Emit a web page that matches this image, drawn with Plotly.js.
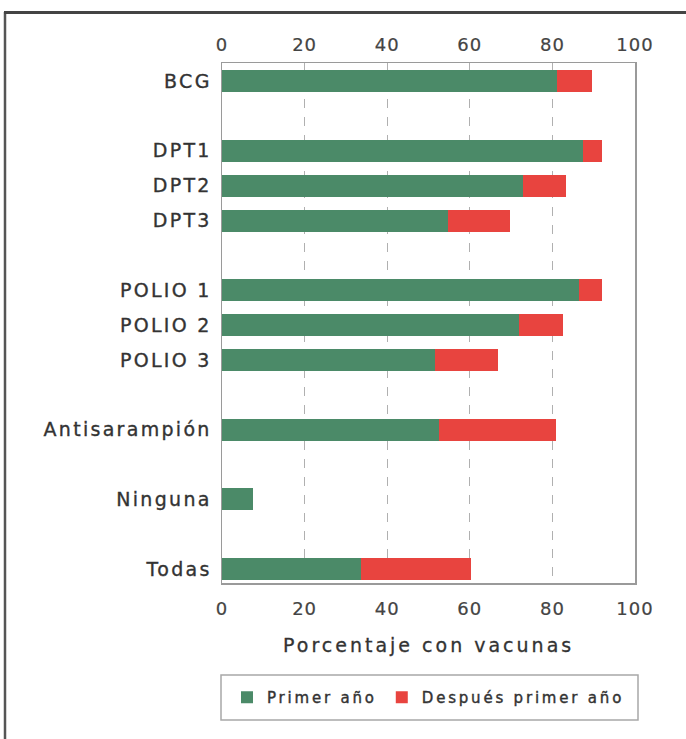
<!DOCTYPE html>
<html>
<head>
<meta charset="utf-8">
<script src="https://cdn.plot.ly/plotly-3.0.1.min.js"></script>
<style>
html,body{margin:0;padding:0;background:#fff;}
#chart{width:686px;height:739px;}
.ytick text{letter-spacing:2.3px;stroke:#333;stroke-width:0.35px;}
.xtick text, .x2tick text{letter-spacing:1px;stroke:#444;stroke-width:0.2px;}
.annotation-text{letter-spacing:3px;stroke:#333;stroke-width:0.3px;}
.legendtext{letter-spacing:2.8px;stroke:#333;stroke-width:0.4px;}
</style>
</head>
<body>
<div id="chart"></div>
<script>
// Data
var categories = ["BCG", "DPT1", "DPT2", "DPT3", "POLIO 1", "POLIO 2", "POLIO 3", "Antisarampión", "Ninguna", "Todas"];
var groupOf    = [0, 1, 1, 1, 2, 2, 2, 3, 4, 5];
var primerAno  = [81.0, 87.3, 73.0, 54.6, 86.4, 71.8, 51.6, 52.5, 7.6, 33.6];
var despuesAno = [8.5, 4.6, 10.3, 15.1, 5.7, 10.8, 15.3, 28.4, 0, 26.6];
var xTicks = [0, 20, 40, 60, 80, 100];
var seriesNames = ["Primer año", "Después primer año"];
var xTitle = "Porcentaje con vacunas";

// positions: one blank slot between groups
var ypos = categories.map(function (c, i) { return i + groupOf[i]; });

var W = 686, H = 739;
var mL = 222, mR = 51, mT = 63, mB = 156;
var pw = W - mL - mR, ph = H - mT - mB;
function px2x(p) { return (p - mL) / pw; }
function py2y(p) { return (H - mB - p) / ph; }

var font = "DejaVu Sans, Liberation Sans, Arial, sans-serif";

var traces = [
  {type: "bar", orientation: "h", name: seriesNames[0], x: primerAno, y: ypos,
   marker: {color: "#4b8a68", line: {width: 0}}, width: 0.63, hoverinfo: "x"},
  {type: "bar", orientation: "h", name: seriesNames[1], x: despuesAno, y: ypos,
   marker: {color: "#e8443f", line: {width: 0}}, width: 0.63, hoverinfo: "x"},
  {type: "scatter", x: [], y: [], xaxis: "x2", yaxis: "y", showlegend: false, hoverinfo: "skip"}
];

var axisCommon = {
  range: [0, 100], tickvals: xTicks, ticktext: xTicks.map(String),
  tickfont: {family: font, size: 18, color: "#444"},
  ticks: "", showgrid: true, gridcolor: "#b0b0b0", griddash: "dash", gridwidth: 1,
  zeroline: false, fixedrange: true
};

var xaxis = Object.assign({}, axisCommon, {
  showline: true, linecolor: "#9a9a9a", linewidth: 1.5, mirror: true,
  ticklabelstandoff: 9
});
var xaxis2 = Object.assign({}, axisCommon, {
  overlaying: "x", side: "top", matches: "x", showgrid: false, showline: false,
  ticklabelstandoff: 7
});

var layout = {
  width: W, height: H,
  margin: {l: mL, r: mR, t: mT, b: mB, pad: 0},
  paper_bgcolor: "#fff", plot_bgcolor: "#fff",
  barmode: "stack",
  xaxis: xaxis,
  xaxis2: xaxis2,
  yaxis: {
    range: [14.4, -0.52], tickvals: ypos, ticktext: categories,
    tickfont: {family: font, size: 19, color: "#333"},
    ticks: "", showgrid: false, zeroline: false, showline: true,
    linecolor: "#9a9a9a", linewidth: 1.5, mirror: true,
    ticklabelstandoff: 5, fixedrange: true
  },
  showlegend: true,
  legend: {
    orientation: "h", x: 0.5, xanchor: "center", y: py2y(697.5), yanchor: "middle",
    font: {family: font, size: 15, color: "#333"},
    bgcolor: "rgba(0,0,0,0)", borderwidth: 0, itemwidth: 30, traceorder: "normal"
  },
  annotations: [{
    text: xTitle, xref: "paper", yref: "paper", x: 0.5, y: py2y(645),
    xanchor: "center", yanchor: "middle", showarrow: false,
    font: {family: font, size: 19, color: "#333"}
  }],
  shapes: [
    {type: "rect", xref: "paper", yref: "paper",
     x0: px2x(221), x1: px2x(638), y0: py2y(720), y1: py2y(675),
     line: {color: "#a8a8a8", width: 1.5}, fillcolor: "rgba(0,0,0,0)"},
    {type: "line", xref: "paper", yref: "paper",
     x0: px2x(5), x1: px2x(5), y0: py2y(12), y1: py2y(739),
     line: {color: "#555", width: 2.5}},
    {type: "line", xref: "paper", yref: "paper",
     x0: px2x(4), x1: px2x(686), y0: py2y(12.5), y1: py2y(12.5),
     line: {color: "#444", width: 3}}
  ]
};

Plotly.newPlot("chart", traces, layout, {displayModeBar: false, staticPlot: true});
</script>
</body>
</html>
